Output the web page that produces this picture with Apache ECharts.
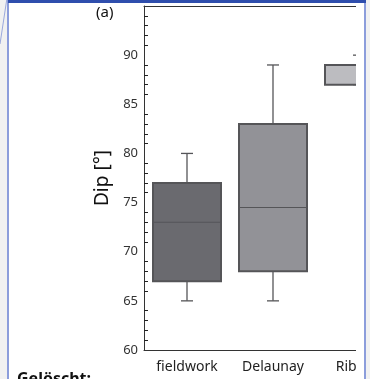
<!DOCTYPE html>
<html>
<head>
<meta charset="utf-8">
<script src="https://cdn.jsdelivr.net/npm/echarts@6/dist/echarts.min.js"></script>
<style>
  html, body { margin: 0; padding: 0; background: #fff; }
  #page { position: relative; width: 370px; height: 379px; overflow: hidden; background: #fff; }
  #clip { position: absolute; left: 0; top: 0; width: 356px; height: 379px; overflow: hidden; }
  #chart { position: absolute; left: 0; top: 0; width: 420px; height: 379px; }
  #deco { position: absolute; left: 0; top: 0; }
  #note { position: absolute; left: 17px; top: 367px; font: bold 16px 'Noto Sans', sans-serif; color: #111; }
</style>
</head>
<body>
<div id="page">
  <div id="clip"><div id="chart"></div></div>
  <div id="note">Gelöscht:</div>
  <svg id="deco" width="370" height="379">
    <rect x="0" y="0" width="8" height="379" fill="#f1f1f1"/>
    <rect x="366" y="0" width="4" height="379" fill="#f1f1f1"/>
    <line x1="6.7" y1="0" x2="0" y2="44" stroke="#9aa8dc" stroke-width="1"/>
    <rect x="7" y="0" width="2" height="379" fill="#8c9ddb"/>
    <rect x="364" y="0" width="2" height="379" fill="#8c9ddb"/>
    <rect x="8" y="0" width="358" height="3" fill="#2f4ead"/>
  </svg>
</div>
<script>
// 카테고리와 상자 데이터
var categories = ['fieldwork', 'Delaunay', 'Ribbon'];
var whiskerMin = [65, 65, 87];
var quart1 = [67, 68, 87];
var medians = [73, 74.5, 89];
var quart3 = [77, 83, 89];
var whiskerMax = [80, 89, 90];
var boxFills = ['#6a6a6f', '#929297', '#bcbcc0'];

var myChart = echarts.init(document.getElementById('chart'));

// [카테고리 인덱스, min, Q1, median, Q3, max]
var boxData = categories.map(function (c, i) {
  return [i, whiskerMin[i], quart1[i], medians[i], quart3[i], whiskerMax[i]];
});

var BOX_W = 68;
var CAP_W = 12;
var EDGE = '#555558';

// 상자 그리기
var renderBox = function (params, api) {
  var idx = api.value(0);
  var pMin = api.coord([idx, api.value(1)]);
  var pQ1 = api.coord([idx, api.value(2)]);
  var pMed = api.coord([idx, api.value(3)]);
  var pQ3 = api.coord([idx, api.value(4)]);
  var pMax = api.coord([idx, api.value(5)]);
  var x = pMed[0];
  var lineStyle = { stroke: EDGE, lineWidth: 1.3 };
  return {
    type: 'group',
    children: [
      { type: 'line', shape: { x1: x, y1: pQ3[1], x2: x, y2: pMax[1] }, style: lineStyle },
      { type: 'line', shape: { x1: x, y1: pQ1[1], x2: x, y2: pMin[1] }, style: lineStyle },
      { type: 'line', shape: { x1: x - CAP_W / 2, y1: pMax[1], x2: x + CAP_W / 2, y2: pMax[1] }, style: lineStyle },
      { type: 'line', shape: { x1: x - CAP_W / 2, y1: pMin[1], x2: x + CAP_W / 2, y2: pMin[1] }, style: lineStyle },
      {
        type: 'rect',
        shape: { x: x - BOX_W / 2, y: pQ3[1], width: BOX_W, height: pQ1[1] - pQ3[1] },
        style: { fill: boxFills[idx], stroke: EDGE, lineWidth: 2 }
      },
      { type: 'line', shape: { x1: x - BOX_W / 2, y1: pMed[1], x2: x + BOX_W / 2, y2: pMed[1] }, style: { stroke: EDGE, lineWidth: 1.2 } }
    ]
  };
};

var option = {
  animation: false,
  grid: { left: 144, top: 6, width: 258, height: 344 },
  xAxis: [
    {
      type: 'category',
      data: categories,
      position: 'bottom',
      axisLine: { lineStyle: { color: '#333', width: 1 } },
      axisTick: { inside: true, length: 5, lineStyle: { color: '#222' } },
      axisLabel: { color: '#222', fontSize: 14, fontFamily: 'Noto Sans', margin: 10 },
      splitLine: { show: false }
    },
    {
      type: 'category',
      data: categories,
      position: 'top',
      axisLine: { lineStyle: { color: '#333', width: 1 } },
      axisTick: { inside: true, length: 5, lineStyle: { color: '#222' } },
      axisLabel: { show: false },
      splitLine: { show: false }
    }
  ],
  yAxis: {
    type: 'value',
    min: 60,
    max: 95,
    interval: 5,
    name: 'Dip [°]',
    nameLocation: 'middle',
    nameGap: 26,
    nameTextStyle: { fontSize: 19, color: '#111', fontFamily: 'Noto Sans' },
    axisLine: { show: true, lineStyle: { color: '#333', width: 1 } },
    axisTick: { inside: true, length: 6, lineStyle: { color: '#222' } },
    minorTick: { show: true, splitNumber: 5, length: 4, lineStyle: { color: '#222' } },
    axisLabel: {
      color: '#333', fontSize: 13, fontFamily: 'Noto Sans', margin: 6,
      formatter: function (v) { return v > 90 ? '' : v; }
    },
    splitLine: { show: false }
  },
  graphic: [
    {
      type: 'text', left: 96, top: 5,
      style: { text: '(a)', fontSize: 15, fontFamily: 'Noto Sans', fill: '#111' }
    }
  ],
  series: [
    {
      type: 'custom',
      renderItem: renderBox,
      encode: { x: 0, y: [1, 2, 3, 4, 5] },
      data: boxData
    }
  ]
};

myChart.setOption(option);
</script>
</body>
</html>
